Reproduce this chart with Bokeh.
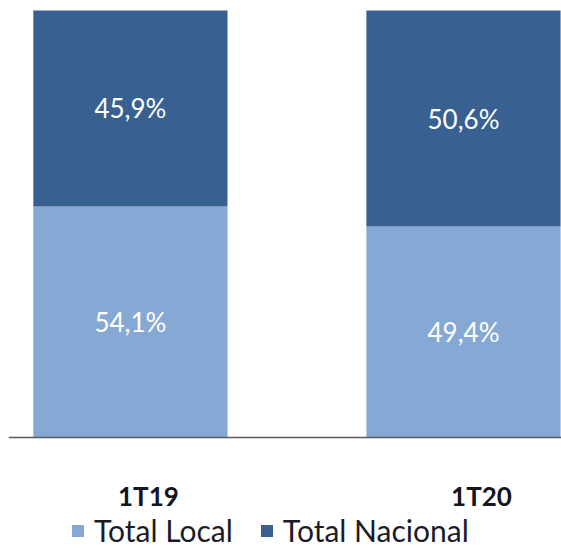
from bokeh.plotting import figure
from bokeh.models import ColumnDataSource, Range1d, Span, Legend, LegendItem
from bokeh.core.properties import value
from bokeh.embed import file_html
from bokeh.resources import INLINE

# ---- data ----
categories = ["1T19", "1T20"]
total_local = [54.1, 49.4]
total_nacional = [45.9, 50.6]
series_names = ["Total Local", "Total Nacional"]

LIGHT = "#86A8D4"
DARK = "#386192"
FONT = "Lato"

xs = list(range(len(categories)))
local_mid = [v / 2 for v in total_local]
nac_mid = [l + n / 2 for l, n in zip(total_local, total_nacional)]


def fmt(v):
    return f"{v:.1f}".replace(".", ",") + "%"


src = ColumnDataSource(dict(
    x=xs, cat=categories, local=total_local, nacional=total_nacional,
    local_mid=local_mid, nac_mid=nac_mid,
    local_lbl=[fmt(v) for v in total_local],
    nac_lbl=[fmt(v) for v in total_nacional],
    cat_y=[-13.6] * len(xs),
))

p = figure(width=561, height=549, output_backend="svg", toolbar_location=None,
           x_range=Range1d(-0.366, 1.2943), y_range=Range1d(-26.23, 102.34),
           min_border=0, min_border_left=8)
p.axis.visible = False
p.grid.visible = False
p.outline_line_color = None
p.background_fill_color = "white"

rs = p.vbar_stack(["local", "nacional"], x="x", width=0.583, source=src,
                  fill_color=[LIGHT, DARK], line_color=None)

p.add_layout(Span(location=0, dimension="width", line_color="#5a5a5a",
                  line_width=1.5))

common = dict(source=src, text_align="center", text_baseline="middle",
              text_color="white", text_font=value(FONT),
              text_font_size="26px")
p.text(x="x", y="local_mid", text="local_lbl", **common)
p.text(x="x", y="nac_mid", text="nac_lbl", **common)

p.text(x="x", y="cat_y", text="cat", source=src, text_align="center",
       text_baseline="alphabetic", text_color="#151520",
       text_font=value(FONT), text_font_style="bold",
       text_font_size="26px", x_offset=18)

legend = Legend(items=[LegendItem(label=series_names[0], renderers=[rs[0]]),
                       LegendItem(label=series_names[1], renderers=[rs[1]])],
                orientation="horizontal", location=(62, 1),
                padding=0, margin=0, spacing=26, label_standoff=9,
                glyph_width=15, glyph_height=15,
                label_text_font=FONT, label_text_font_size="30px",
                label_text_color="#1b1b28",
                border_line_color=None, background_fill_alpha=0)
p.add_layout(legend)

open("out.html", "w").write(file_html(p, INLINE))
